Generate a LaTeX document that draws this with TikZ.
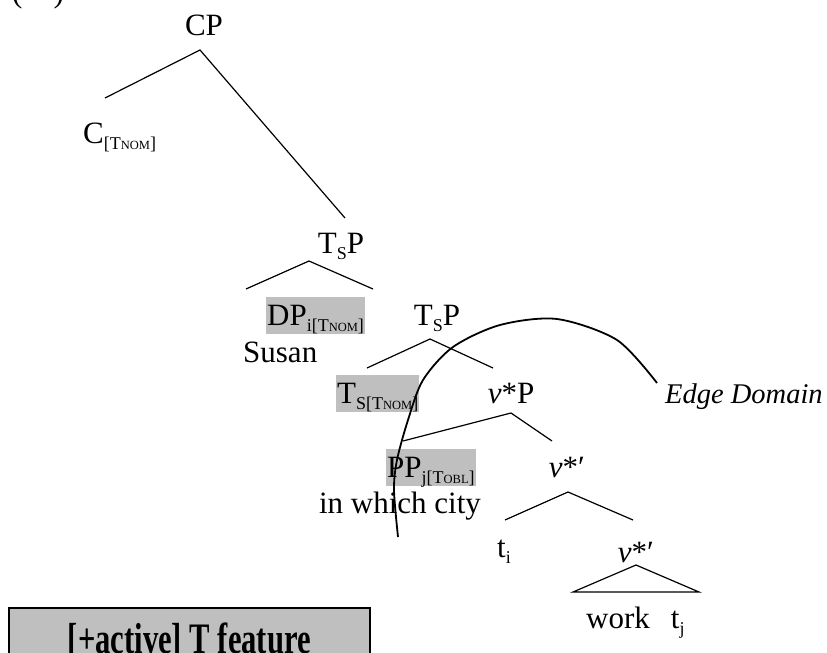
\documentclass[tikz,border=0pt]{standalone}
\usepackage{fontspec}
\usepackage{graphicx}
\setmainfont{Liberation Serif}
\newcommand{\lsub}[1]{\raisebox{-.2em}{\fontsize{18}{20}\selectfont #1}}
\newcommand{\featnom}{{\fontsize{12.5}{14}\selectfont NOM}}
\newcommand{\featobl}{{\fontsize{12.5}{14}\selectfont OBL}}
\begin{document}
\begin{tikzpicture}[x=1pt,y=-1pt,font=\fontsize{31}{37}\selectfont,
    branch/.style={line width=1.2pt},
    lbl/.style={inner sep=0pt,anchor=base},
    lblw/.style={inner sep=0pt,anchor=base west},
    hl/.style={fill=black!25,inner sep=0pt,inner xsep=1pt,text height=28pt,text depth=9pt,anchor=base west}]
    \useasboundingbox (0,0) rectangle (827,653);
    \node[lblw](exnum) at (12,2) {(\phantom{00})};
    % labels
    \node[lbl](cp) at (204,35) {CP};
    \node[lblw](c) at (83,143) {C\lsub{[T\featnom]}};
    \node[lbl](tsp) at (341,253) {T\lsub{S}P};
    \node[hl](dp) at (266,325) {DP\lsub{i[T\featnom]}};
    \node[lblw](susan) at (243,362) {Susan};
    \node[lbl](tspb) at (437,325) {T\lsub{S}P};
    \node[hl](ts) at (336,403) {T\lsub{S[T\featnom]}};
    \node[lbl](vp) at (511,403) {\textit{v}*P};
    \node[hl](pp) at (386,477) {PP\lsub{j[T\featobl]}};
    \node[lbl](city) at (400,513) {in which city};
    \node[lbl](vbar) at (567,477) {\textit{v}*′};
    \node[lblw](ti) at (497,557) {t\lsub{i}};
    \node[lbl](vbarb) at (636,562) {\textit{v}*′};
    \node[lblw](work) at (586,628) {work\hspace{21pt}t\lsub{j}};
    \node[lblw,font=\fontsize{28.5}{34}\selectfont\itshape](edge) at (665,403) {Edge Domain};
    % branches
    \foreach \nm/\tx/\ty/\lx/\ly/\rx/\ry in {cp/200/50/105/98/345/218, tsp/309/261/246/289/373/289,
        tspb/430/339/367/368/493/368, vp/511/413/403/441/552/441, vbar/568/492/505/520/633/520}
    {
        \coordinate (\nm-top) at (\tx,\ty);
        \coordinate (\nm-l) at (\lx,\ly);
        \coordinate (\nm-r) at (\rx,\ry);
        \draw[branch](\nm-l)--(\nm-top)--(\nm-r);
    }
    \coordinate (vbarb-top) at (636,565);
    \coordinate (vbarb-l) at (573,592);
    \coordinate (vbarb-r) at (699,592);
    \draw[branch](vbarb-l)--(vbarb-top)--(vbarb-r)--cycle;
    % edge domain arc
    \draw[line width=1.8pt] plot[smooth] coordinates {(398,537) (394,490) (397,460) (408,420) (423,380)
        (453,347) (500,325) (557,319) (617,340) (657,383)};
    % feature box
    \node[draw,fill=black!25,line width=1.6pt,anchor=north west,inner sep=0pt,
        minimum width=361pt,minimum height=66pt](feat) at (8,607)
        {\scalebox{1.02}[1.45]{\fontsize{30}{36}\selectfont\bfseries [+active] T feature}};
\end{tikzpicture}
\end{document}
